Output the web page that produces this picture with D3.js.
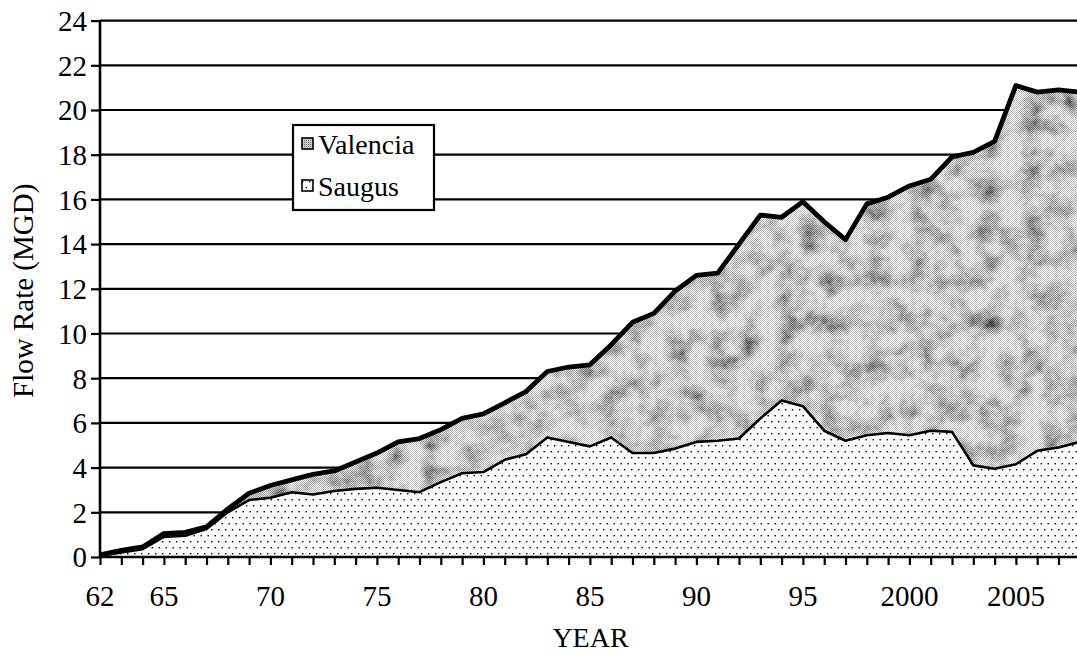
<!DOCTYPE html>
<html>
<head>
<meta charset="utf-8">
<script src="https://cdn.jsdelivr.net/npm/d3@7"></script>
<style>
  html, body { margin: 0; padding: 0; background: #fff; }
  svg { display: block; }
</style>
</head>
<body>
<svg id="chart" width="1077" height="654"></svg>
<script>
// ---- data ----
const years = [1962,1963,1964,1965,1966,1967,1968,1969,1970,1971,1972,1973,1974,1975,1976,1977,1978,1979,1980,1981,1982,1983,1984,1985,1986,1987,1988,1989,1990,1991,1992,1993,1994,1995,1996,1997,1998,1999,2000,2001,2002,2003,2004,2005,2006,2007,2008];
const saugus = [0.05,0.2,0.35,0.9,0.95,1.25,2.0,2.55,2.65,2.9,2.8,2.95,3.05,3.1,3.0,2.9,3.35,3.75,3.8,4.35,4.6,5.35,5.15,4.95,5.35,4.65,4.65,4.85,5.15,5.2,5.3,6.2,7.0,6.75,5.65,5.2,5.45,5.55,5.45,5.65,5.6,4.1,3.95,4.15,4.75,4.9,5.15];
const valencia = [0.05,0.1,0.1,0.15,0.15,0.1,0.15,0.3,0.55,0.55,0.9,0.9,1.2,1.55,2.15,2.4,2.35,2.45,2.6,2.55,2.8,2.95,3.35,3.65,4.15,5.85,6.25,7.05,7.45,7.5,8.7,9.1,8.2,9.15,9.35,9.0,10.35,10.55,11.15,11.25,12.3,14.0,14.65,16.95,16.05,16.0,15.65];
const seriesNames = ["Valencia", "Saugus"];
const yTicks = [0,2,4,6,8,10,12,14,16,18,20,22,24];
const xLabelYears = [1962,1965,1970,1975,1980,1985,1990,1995,2000,2005];
const xLabelText = ["62","65","70","75","80","85","90","95","2000","2005"];
const yTitle = "Flow Rate (MGD)";
const xTitle = "YEAR";

// ---- setup ----
const W = 1077, H = 654;
const FONT = "'Liberation Serif', 'Times New Roman', Times, serif";
const svg = d3.select("#chart");
const x = d3.scaleLinear().domain([1962, 2008]).range([100, 100 + 46 * 21.3]);
const y = d3.scaleLinear().domain([0, 24]).range([557, 20.6]);

const table = years.map((yr, i) => ({ year: yr, Saugus: saugus[i], Valencia: valencia[i] }));
const stacked = d3.stack().keys(["Saugus", "Valencia"])(table);

// ---- defs: textures ----
const defs = svg.append("defs");
const dots = defs.append("pattern").attr("id", "dots")
  .attr("patternUnits", "userSpaceOnUse").attr("width", 7).attr("height", 12);
dots.append("rect").attr("width", 7).attr("height", 12).attr("fill", "#fff");
dots.append("rect").attr("x", 1).attr("y", 1).attr("width", 1.4).attr("height", 1.4).attr("fill", "#000");
dots.append("rect").attr("x", 4.5).attr("y", 7).attr("width", 1.4).attr("height", 1.4).attr("fill", "#000");

const dither = defs.append("pattern").attr("id", "dither")
  .attr("patternUnits", "userSpaceOnUse").attr("width", 2).attr("height", 2);
dither.append("rect").attr("width", 1).attr("height", 1).attr("fill", "#000");
dither.append("rect").attr("x", 1).attr("y", 1).attr("width", 1).attr("height", 1).attr("fill", "#000");

const f = defs.append("filter").attr("id", "mottle")
  .attr("x", 0).attr("y", 0).attr("width", 1).attr("height", 1);
f.append("feTurbulence").attr("type", "fractalNoise").attr("baseFrequency", "0.045")
  .attr("numOctaves", 5).attr("seed", 11).attr("result", "noise");
f.append("feColorMatrix").attr("in", "noise").attr("type", "matrix")
  .attr("values", "1.1 1.1 0 0 -0.33  1.1 1.1 0 0 -0.33  1.1 1.1 0 0 -0.33  0 0 0 0 1")
  .attr("result", "grey");
f.append("feComposite").attr("in", "grey").attr("in2", "SourceAlpha").attr("operator", "in");

const swatchV = defs.append("pattern").attr("id", "swv")
  .attr("patternUnits", "userSpaceOnUse").attr("width", 2).attr("height", 2);
swatchV.append("rect").attr("width", 2).attr("height", 2).attr("fill", "#ccc");
swatchV.append("rect").attr("width", 1).attr("height", 1).attr("fill", "#777");

// ---- gridlines ----
svg.append("g").selectAll("line").data(yTicks.filter(d => d > 0)).join("line")
  .attr("x1", x(1962)).attr("x2", W)
  .attr("y1", d => y(d)).attr("y2", d => y(d))
  .attr("stroke", "#000").attr("stroke-width", 2.2);

// ---- areas ----
const area = d3.area().x(d => x(d.data.year)).y0(d => y(d[0])).y1(d => y(d[1]));
svg.append("path").datum(stacked[0]).attr("d", area).attr("fill", "url(#dots)");
svg.append("path").datum(stacked[1]).attr("d", area).attr("fill", "#aaa").attr("filter", "url(#mottle)");
svg.append("path").datum(stacked[1]).attr("d", area).attr("fill", "url(#dither)").attr("opacity", 0.25);

// ---- boundary lines ----
const line = d3.line().x(d => x(d.data.year)).y(d => y(d[1]));
svg.append("path").datum(stacked[0]).attr("d", line)
  .attr("fill", "none").attr("stroke", "#000").attr("stroke-width", 2.6).attr("stroke-linejoin", "round");
svg.append("path").datum(stacked[1]).attr("d", line)
  .attr("fill", "none").attr("stroke", "#000").attr("stroke-width", 4.8).attr("stroke-linejoin", "round");

// ---- axes ----
const xAxis = d3.axisBottom(x).tickValues(d3.range(1962, 2009)).tickSize(8).tickFormat("");
const gx = svg.append("g").attr("transform", `translate(0,${y(0)})`).call(xAxis);
gx.select(".domain").attr("stroke", "#000").attr("stroke-width", 2.6).attr("d", `M${x(1962)},0H${W}`);
gx.selectAll(".tick line").attr("stroke", "#000").attr("stroke-width", 2.2);

svg.append("g").selectAll("text").data(xLabelYears).join("text")
  .attr("x", d => x(d)).attr("y", 606)
  .attr("text-anchor", "middle").attr("font-size", 29)
  .text((d, i) => xLabelText[i]);

const yAxis = d3.axisLeft(y).tickValues(yTicks).tickSize(9).tickFormat(d => d);
const gy = svg.append("g").attr("transform", `translate(${x(1962)},0)`).call(yAxis);
gy.attr("font-family", FONT).attr("font-size", 29);
gy.select(".domain").attr("stroke", "#000").attr("stroke-width", 2.6).attr("d", `M0,${y(0)}V${y(24)}`);
gy.selectAll(".tick line").attr("stroke", "#000").attr("stroke-width", 2.2);
gy.selectAll(".tick text").attr("font-size", 29).attr("x", -13).attr("dy", "0.34em").attr("fill", "#000");

// ---- titles ----
svg.append("text").attr("transform", `translate(33,${(y(0) + y(24)) / 2 + 2}) rotate(-90)`)
  .attr("text-anchor", "middle").attr("font-size", 29).text(yTitle);
svg.append("text").attr("x", (x(1962) + W) / 2 + 2).attr("y", 647)
  .attr("text-anchor", "middle").attr("font-size", 28).text(xTitle);

// ---- legend ----
const lg = svg.append("g");
lg.append("rect").attr("x", 293).attr("y", 125).attr("width", 141).attr("height", 85)
  .attr("fill", "#fff").attr("stroke", "#000").attr("stroke-width", 2.2);
const legendFills = ["url(#swv)", "url(#dots)"];
const legendY = [154, 196];
seriesNames.forEach((name, i) => {
  lg.append("rect").attr("x", 302).attr("y", legendY[i] - 16).attr("width", 11).attr("height", 11)
    .attr("fill", legendFills[i]).attr("stroke", "#000").attr("stroke-width", 1.6);
  lg.append("text").attr("x", 318).attr("y", legendY[i]).attr("font-size", 28).text(name);
});

svg.selectAll("text").style("font-family", FONT).attr("fill", "#000");
</script>
</body>
</html>
